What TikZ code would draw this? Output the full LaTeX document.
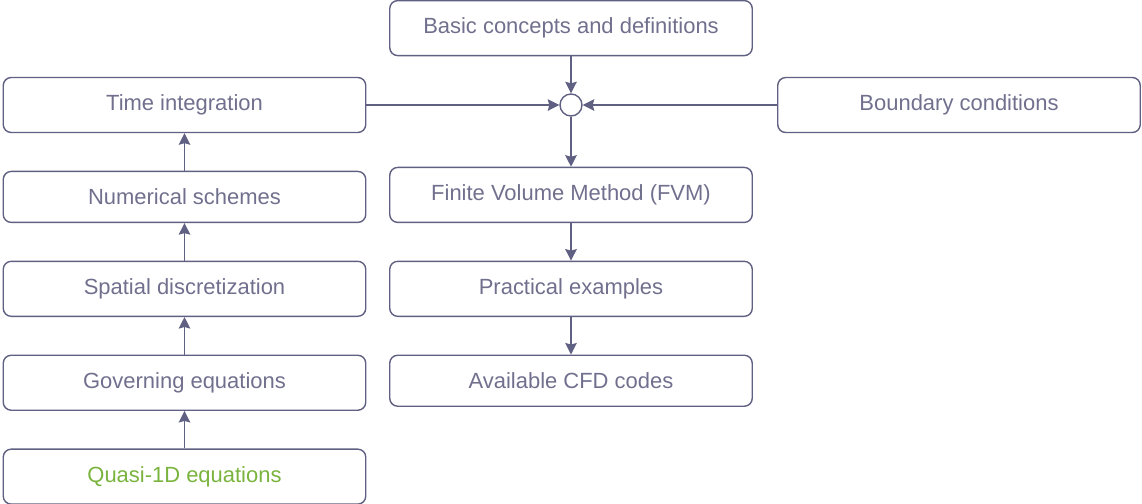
\documentclass[tikz,border=0pt]{standalone}
\usepackage{fontspec}
\setmainfont{Liberation Sans}
\usepackage{xcolor}
\usepackage{tikz}
\usetikzlibrary{arrows.meta, positioning}
\definecolor{lineblue}{RGB}{96, 96, 130}
\definecolor{textgray}{RGB}{112, 112, 142}
\definecolor{quasigreen}{RGB}{122, 180, 62}

\begin{document}
\begin{tikzpicture}[
    node distance=0.75cm,
    every node/.style={font=\fontsize{12.5}{15}\selectfont},
    block/.style={rectangle, draw=lineblue, line width=0.8pt, rounded corners=0.16cm, minimum width=7.25cm, minimum height=1.1cm, align=center, text=textgray},
    junction/.style={circle, draw=lineblue, line width=0.8pt, fill=white, minimum size=0.44cm, inner sep=0pt},
    arrow/.style={-{Stealth[length=2.3mm, width=2.3mm, inset=0.3mm]}, draw=lineblue, line width=1pt}
]
\useasboundingbox (0,0) rectangle (22.84,-10.06);

% Left column (bottom-up chain)
\node[block] (time) at (3.69,-2.1) {Time integration};
\node[block, minimum height=1.02cm, below=of time] (schemes) {Numerical schemes};
\node[block, below=of schemes] (spatial) {Spatial discretization};
\node[block, below=of spatial] (governing) {Governing equations};
\node[block, below=of governing, text=quasigreen] (quasi) {Quasi-1D equations};

% Summing point and middle column
\node[junction] (sum) at (11.42,-2.1) {};
\node[block, above=0.74cm of sum] (basic) {Basic concepts and definitions};
\node[block, below=1.0cm of sum] (fvm) {Finite Volume Method (FVM)};
\node[block, below=of fvm] (examples) {Practical examples};
\node[block, minimum height=1.02cm, below=of examples] (codes) {Available CFD codes};

% Right side
\node[block] (boundary) at (19.18,-2.1) {Boundary conditions};

% Arrows
\draw[arrow] (quasi) -- (governing);
\draw[arrow] (governing) -- (spatial);
\draw[arrow] (spatial) -- (schemes);
\draw[arrow] (schemes) -- (time);

\draw[arrow] (time) -- (sum);
\draw[arrow] (boundary) -- (sum);
\draw[arrow] (basic) -- (sum);
\draw[arrow] (sum) -- (fvm);
\draw[arrow] (fvm) -- (examples);
\draw[arrow] (examples) -- (codes);

\end{tikzpicture}
\end{document}
